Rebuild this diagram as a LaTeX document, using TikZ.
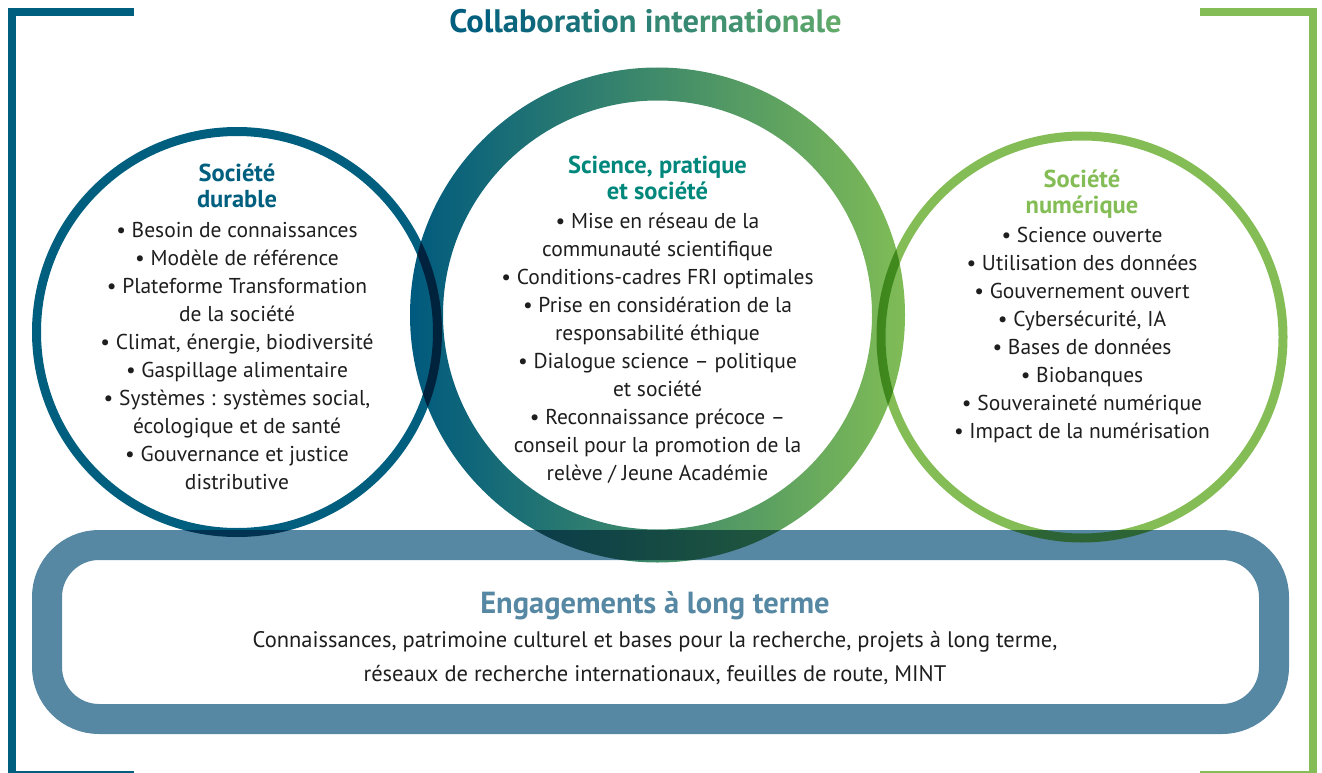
\documentclass[tikz,border=0pt]{standalone}
\usepackage{fontspec}
\setmainfont{PT Sans}
\usetikzlibrary{calc}
\definecolor{dblue}{HTML}{005F7F}
\definecolor{lgreen}{HTML}{84BD56}
\definecolor{band}{HTML}{5788A3}
\definecolor{teal}{HTML}{00877C}
\definecolor{txt}{HTML}{1E1E1E}
\definecolor{tA}{HTML}{005E7F}
\definecolor{tB}{HTML}{62AA6A}
\definecolor{mA}{HTML}{005A7E}
\definecolor{mB}{HTML}{007F83}
\definecolor{mC}{HTML}{80BC56}
\tikzset{
  bracket/.style={line width=8pt},
  ring/.style={line width=9pt},
  body/.style={inner sep=0pt, align=center, text=txt, font=\fontsize{21.5}{28}\selectfont},
  head/.style={inner sep=0pt, align=center, font=\bfseries\fontsize{24.5}{26}\selectfont},
}
\begin{document}
\begin{tikzpicture}[x=1pt,y=-1pt]
\useasboundingbox (0,0) rectangle (1322,773);
% brackets
\draw[bracket, dblue] (134,12) -- (12,12) -- (12,775) -- (134,775);
\draw[bracket, lgreen] (1200,12) -- (1313,12) -- (1313,775) -- (1200,775);
% title
\node[inner sep=0pt, anchor=base, font=\bfseries\fontsize{32.5}{36}\selectfont] (title) at (645.5,33)
  {\textcolor{tA!100!tB}{Col}\textcolor{tA!89!tB}{lab}\textcolor{tA!78!tB}{ora}\textcolor{tA!67!tB}{tio}\textcolor{tA!56!tB}{n i}\textcolor{tA!44!tB}{nte}\textcolor{tA!33!tB}{rna}\textcolor{tA!22!tB}{tio}\textcolor{tA!11!tB}{nal}\textcolor{tA!0!tB}{e}};
% band
\draw[line width=30pt, band, rounded corners=52pt] (47,545) rectangle (1274,719);
% circles
\coordinate (cl) at (237,332);
\coordinate (cm) at (657.5,315);
\coordinate (cr) at (1082,337);
\begin{scope}[blend mode=multiply]
  \draw[ring, dblue] (cl) circle[radius=200.5];
\end{scope}
\begin{scope}[blend mode=multiply]
  \shade[left color=mA, middle color=mB, right color=mC, even odd rule] (cm) circle[radius=247.5] (cm) circle[radius=214.5];
\end{scope}
\begin{scope}[blend mode=multiply]
  \draw[ring, lgreen] (cr) circle[radius=201];
\end{scope}
% left circle texts
\node[head, text=dblue, anchor=base] (lh) at (237,207) {Société\\durable};
\node[body, anchor=base] (lb) at (237,489) {• Besoin de connaissances\\• Modèle de référence\\• Plateforme Transformation\\de la société\\• Climat, énergie, biodiversité\\• Gaspillage alimentaire\\• Systèmes : systèmes social,\\écologique et de santé\\• Gouvernance et justice\\distributive};
% middle
\node[head, text=teal, anchor=base] (mh) at (657.5,199) {Science, pratique\\et société};
\node[body, anchor=base] (mb) at (657.5,480) {• Mise en réseau de la\\communauté scientifique\\• Conditions-cadres FRI optimales\\• Prise en considération de la\\responsabilité éthique\\• Dialogue science – politique\\et société\\• Reconnaissance précoce –\\conseil pour la promotion de la\\relève / Jeune Académie};
% right
\node[head, text=lgreen, anchor=base] (rh) at (1082,213) {Société\\numérique};
\node[body, anchor=base] (rb) at (1082,438) {• Science ouverte\\• Utilisation des données\\• Gouvernement ouvert\\• Cybersécurité, IA\\• Bases de données\\• Biobanques\\• Souveraineté numérique\\• Impact de la numérisation};
% bottom
\node[inner sep=0pt, anchor=base, text=band, font=\bfseries\fontsize{30.5}{34}\selectfont] (eh) at (655,613) {Engagements à long terme};
\node[inner sep=0pt, anchor=base, align=center, text=txt, font=\fontsize{22.5}{34}\selectfont] (eb) at (655,681) {Connaissances, patrimoine culturel et bases pour la recherche, projets à long terme,\\réseaux de recherche internationaux, feuilles de route, MINT};
\end{tikzpicture}
\end{document}
